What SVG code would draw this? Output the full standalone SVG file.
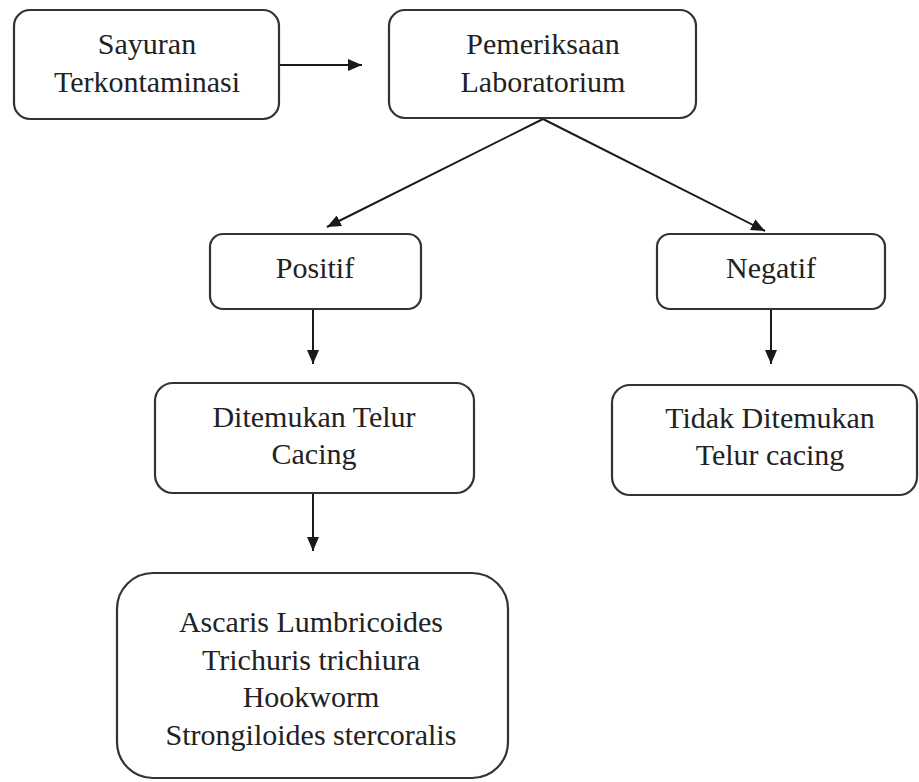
<svg xmlns="http://www.w3.org/2000/svg" width="919" height="782" viewBox="0 0 919 782">
<defs>
<marker id="ah" viewBox="0 0 14 12" refX="14" refY="6" markerWidth="14" markerHeight="12" markerUnits="userSpaceOnUse" orient="auto">
<path d="M0,0 L14,6 L0,12 Z" fill="#1a1a1a"/>
</marker>
</defs>
<style>
.box{fill:#fff;stroke:#333;stroke-width:2.2}
.t{font-size:30px;fill:#222;text-anchor:middle}
.c{stroke:#1a1a1a;stroke-width:2;fill:none}
</style>
<rect width="919" height="782" fill="#fff"/>
<g id="connectors">
<line class="c" x1="279" y1="65" x2="362" y2="65" marker-end="url(#ah)"/>
<line class="c" x1="543" y1="119" x2="327" y2="227" marker-end="url(#ah)"/>
<line class="c" x1="543" y1="119" x2="765" y2="231" marker-end="url(#ah)"/>
<line class="c" x1="313" y1="309" x2="313" y2="364" marker-end="url(#ah)"/>
<line class="c" x1="771" y1="309" x2="771" y2="364" marker-end="url(#ah)"/>
<line class="c" x1="313" y1="493" x2="313" y2="551" marker-end="url(#ah)"/>
</g>
<g font-family="Liberation Serif, DejaVu Serif, Times New Roman, serif">
<g id="sayuran">
<rect class="box" x="14" y="10" width="265" height="109" rx="16"/>
<text class="t" x="147" y="54">Sayuran</text>
<text class="t" x="147" y="92">Terkontaminasi</text>
</g>
<g id="pemeriksaan">
<rect class="box" x="389" y="10" width="307" height="108" rx="16"/>
<text class="t" x="543" y="54">Pemeriksaan</text>
<text class="t" x="543" y="92">Laboratorium</text>
</g>
<g id="positif">
<rect class="box" x="210" y="234" width="211" height="75" rx="13"/>
<text class="t" x="315" y="278">Positif</text>
</g>
<g id="negatif">
<rect class="box" x="657" y="234" width="228" height="75" rx="13"/>
<text class="t" x="771" y="278">Negatif</text>
</g>
<g id="ditemukan">
<rect class="box" x="155" y="383" width="319" height="110" rx="18"/>
<text class="t" x="314" y="427">Ditemukan Telur</text>
<text class="t" x="314" y="464">Cacing</text>
</g>
<g id="tidak">
<rect class="box" x="612" y="385" width="305" height="110" rx="18"/>
<text class="t" x="770" y="428">Tidak Ditemukan</text>
<text class="t" x="770" y="465">Telur cacing</text>
</g>
<g id="jenis">
<rect class="box" x="117" y="573" width="391" height="205" rx="36"/>
<text class="t" x="311" y="632">Ascaris Lumbricoides</text>
<text class="t" x="311" y="670">Trichuris trichiura</text>
<text class="t" x="311" y="707">Hookworm</text>
<text class="t" x="311" y="745">Strongiloides stercoralis</text>
</g>
</g>
</svg>
